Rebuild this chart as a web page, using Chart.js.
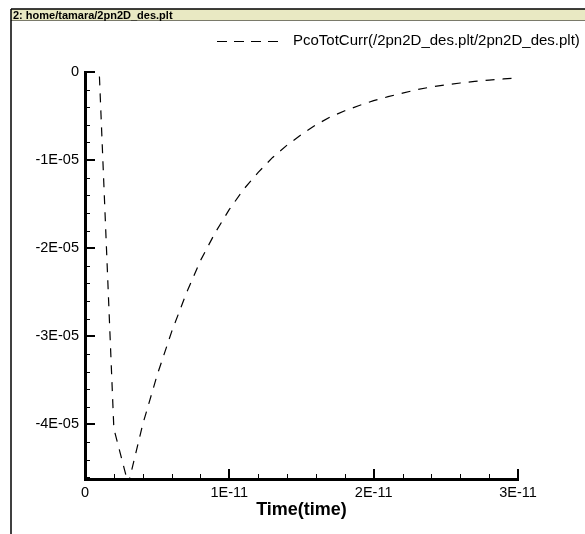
<!DOCTYPE html>
<html>
<head>
<meta charset="utf-8">
<script src="https://cdn.jsdelivr.net/npm/chart.js@4.4.1/dist/chart.umd.min.js"></script>
<style>
  html, body { margin: 0; padding: 0; background: #fff; }
  #c { display: block; }
</style>
</head>
<body>
<canvas id="c" width="585" height="534"></canvas>
<script>
// ---- data ----
const frameTitle = "2: home/tamara/2pn2D_des.plt";
const seriesName = "PcoTotCurr(/2pn2D_des.plt/2pn2D_des.plt)";
const xAxisTitle = "Time(time)";

// time in seconds
const timeValues = [
  1e-12, 2e-12, 3e-12, 4e-12, 5e-12, 6e-12, 7e-12, 8e-12, 9e-12, 10e-12,
  11e-12, 12e-12, 13e-12, 14e-12, 15e-12, 16e-12, 17e-12, 18e-12, 19e-12, 20e-12,
  21e-12, 22e-12, 23e-12, 24e-12, 25e-12, 26e-12, 27e-12, 28e-12, 29e-12, 30e-12
];
// PcoTotCurr values
const currentValues = [
  -0.05e-5, -4.05e-5, -4.68e-5, -4.00e-5, -3.44e-5, -2.95e-5, -2.52e-5, -2.14e-5, -1.83e-5, -1.56e-5,
  -1.33e-5, -1.14e-5, -0.97e-5, -0.83e-5, -0.71e-5, -0.60e-5, -0.51e-5, -0.44e-5, -0.38e-5, -0.325e-5,
  -0.28e-5, -0.24e-5, -0.20e-5, -0.17e-5, -0.145e-5, -0.125e-5, -0.107e-5, -0.092e-5, -0.079e-5, -0.068e-5
];

const xTickValues = [0, 1e-11, 2e-11, 3e-11];
const xTickLabels = ["0", "1E-11", "2E-11", "3E-11"];
const yTickValues = [0, -1e-5, -2e-5, -3e-5, -4e-5];
const yTickLabels = ["0", "-1E-05", "-2E-05", "-3E-05", "-4E-05"];
const xMinorStep = 2e-12;
const yMinorStep = 2e-6;
const xRange = [0, 3e-11];
const yRange = [-4.62e-5, 0];

// ---- drawing ----
const FONT = "'Liberation Sans', Arial, Helvetica, sans-serif";

const framePlugin = {
  id: 'frame',
  beforeDraw(chart) {
    const ctx = chart.ctx;
    ctx.save();
    ctx.fillStyle = '#ffffff';
    ctx.fillRect(0, 0, chart.width, chart.height);
    ctx.restore();
  },
  afterDraw(chart) {
    const ctx = chart.ctx;
    const xs = chart.scales.x, ys = chart.scales.y;
    ctx.save();
    ctx.strokeStyle = '#000';
    const bottom = ys.getPixelForValue(yRange[0]);
    const left = xs.getPixelForValue(xRange[0]);
    // minor ticks (inward)
    ctx.lineWidth = 1;
    for (let i = 0; xRange[0] + i * xMinorStep <= xRange[1] + 1e-20; i++) {
      const px = Math.round(xs.getPixelForValue(xRange[0] + i * xMinorStep)) + 0.5;
      ctx.beginPath(); ctx.moveTo(px, bottom); ctx.lineTo(px, bottom - 5); ctx.stroke();
    }
    for (let i = 0; yRange[1] - i * yMinorStep >= yRange[0] - 1e-20; i++) {
      const py = Math.round(ys.getPixelForValue(yRange[1] - i * yMinorStep)) + 0.5;
      ctx.beginPath(); ctx.moveTo(left, py); ctx.lineTo(left + 5, py); ctx.stroke();
    }
    // major ticks (inward)
    ctx.lineWidth = 2;
    xTickValues.forEach(v => {
      const px = Math.round(xs.getPixelForValue(v));
      ctx.beginPath(); ctx.moveTo(px, bottom); ctx.lineTo(px, bottom - 10); ctx.stroke();
    });
    yTickValues.forEach(v => {
      const py = Math.round(ys.getPixelForValue(v));
      ctx.beginPath(); ctx.moveTo(left, py); ctx.lineTo(left + 10, py); ctx.stroke();
    });

    // legend
    const ly = 41;
    ctx.lineWidth = 1.2;
    ctx.setLineDash([10, 7]);
    ctx.beginPath(); ctx.moveTo(217, ly + 0.5); ctx.lineTo(284, ly + 0.5); ctx.stroke();
    ctx.setLineDash([]);
    ctx.fillStyle = '#000';
    ctx.font = '15px ' + FONT;
    ctx.textBaseline = 'middle';
    ctx.textAlign = 'left';
    ctx.fillText(seriesName, 293, ly);

    // frame: title bar + left border
    ctx.fillStyle = '#e9e9c3';
    ctx.fillRect(11, 9, chart.width - 11, 12);
    ctx.strokeStyle = '#7a7a6a';
    ctx.lineWidth = 1;
    ctx.beginPath(); ctx.moveTo(11, 20.5); ctx.lineTo(chart.width, 20.5); ctx.stroke();
    ctx.strokeStyle = '#000';
    ctx.lineWidth = 1.5;
    ctx.beginPath(); ctx.moveTo(11, 9); ctx.lineTo(chart.width, 9); ctx.stroke();
    ctx.beginPath(); ctx.moveTo(11, 9); ctx.lineTo(11, chart.height); ctx.stroke();
    ctx.fillStyle = '#000';
    ctx.font = 'bold 11px ' + FONT;
    ctx.textBaseline = 'middle';
    ctx.fillText(frameTitle, 13, 15.5);
    ctx.restore();
  }
};

new Chart(document.getElementById('c'), {
  type: 'line',
  data: {
    datasets: [{
      label: seriesName,
      data: timeValues.map((t, i) => ({ x: t, y: currentValues[i] })),
      borderColor: '#000',
      borderWidth: 1.2,
      borderDash: [9, 8],
      pointRadius: 0,
      tension: 0,
      fill: false
    }]
  },
  options: {
    responsive: false,
    animation: false,
    layout: { padding: { left: 0, top: 72, right: 67, bottom: 0 } },
    plugins: { legend: { display: false }, tooltip: { enabled: false } },
    scales: {
      x: {
        type: 'linear',
        min: xRange[0], max: xRange[1],
        grid: { display: false, drawTicks: false, tickLength: 0 },
        border: { display: true, color: '#000', width: 3 },
        afterFit: s => { s.height = 55; },
        afterBuildTicks: s => { s.ticks = xTickValues.map(v => ({ value: v })); },
        ticks: {
          color: '#000', padding: 5, maxRotation: 0, autoSkip: false,
          font: { family: FONT, size: 14.5 },
          callback: (v, i) => xTickLabels[i]
        },
        title: {
          display: true, text: xAxisTitle, color: '#000',
          font: { family: FONT, size: 18, weight: 'bold' },
          padding: { top: 0, bottom: 13 }
        }
      },
      y: {
        type: 'linear',
        min: yRange[0], max: yRange[1],
        grid: { display: false, drawTicks: false, tickLength: 0 },
        border: { display: true, color: '#000', width: 3 },
        afterFit: s => { s.width = 85; },
        afterBuildTicks: s => { s.ticks = yTickValues.map(v => ({ value: v })); },
        ticks: {
          color: '#000', padding: 6, autoSkip: false,
          font: { family: FONT, size: 14.5 },
          callback: (v, i) => yTickLabels[i]
        }
      }
    }
  },
  plugins: [framePlugin]
});
</script>
</body>
</html>
